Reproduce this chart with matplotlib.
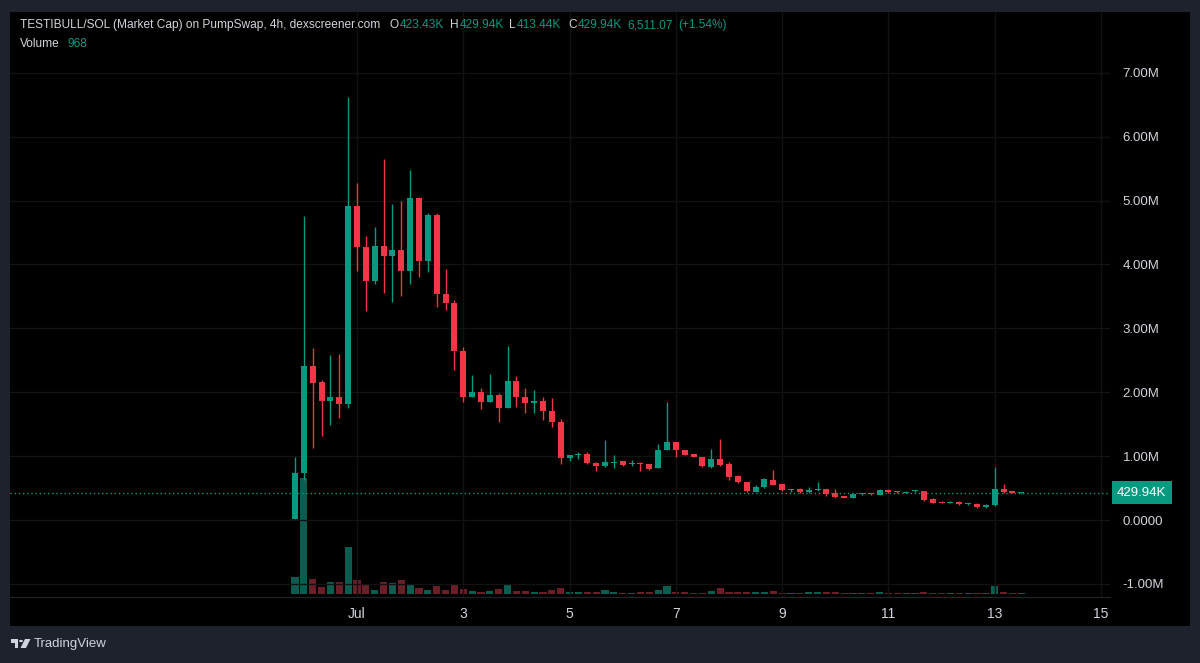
import numpy as np
import pandas as pd
import matplotlib
matplotlib.use('Agg')
import matplotlib.pyplot as plt
import matplotlib.dates as mdates
from matplotlib.patches import Rectangle, Circle, Polygon

plt.rcParams['font.family'] = ['Liberation Sans', 'DejaVu Sans']

# 4h candles, market cap in millions (USD)
start = '2025-06-29 20:00'
opens = [0.02, 0.73, 2.41, 2.16, 1.87, 1.93, 1.82, 4.92, 4.27, 3.74,
         4.29, 4.13, 4.23, 3.89, 5.04, 4.05, 4.78, 3.53, 3.39, 2.65,
         1.93, 2.00, 1.84, 1.96, 1.76, 2.18, 1.92, 1.83, 1.87, 1.70,
         1.53, 0.97, 1.01, 1.03, 0.89, 0.84, 0.89, 0.92, 0.87, 0.89,
         0.87, 0.81, 1.09, 1.22, 1.09, 1.03, 0.98, 0.83, 0.96, 0.87,
         0.69, 0.59, 0.44, 0.51, 0.63, 0.56, 0.47, 0.49, 0.44, 0.47,
         0.48, 0.42, 0.37, 0.35, 0.40, 0.42, 0.39, 0.47, 0.45, 0.43,
         0.45, 0.45, 0.33, 0.28, 0.26, 0.28, 0.25, 0.25, 0.20, 0.23,
         0.49, 0.45, 0.42343]
highs = [0.98, 4.76, 2.69, 2.19, 2.59, 2.60, 6.62, 5.27, 4.45, 4.59,
         5.65, 4.95, 5.00, 5.47, 5.05, 4.80, 4.80, 3.93, 3.45, 2.71,
         2.27, 2.06, 2.28, 1.98, 2.72, 2.26, 2.07, 2.03, 1.92, 1.91,
         1.58, 1.02, 1.06, 1.06, 0.90, 1.25, 1.02, 0.93, 0.94, 0.90,
         0.88, 1.19, 1.85, 1.22, 1.10, 1.03, 0.99, 1.11, 1.27, 0.90,
         0.70, 0.60, 0.55, 0.65, 0.79, 0.57, 0.49, 0.50, 0.52, 0.60,
         0.49, 0.49, 0.38, 0.41, 0.43, 0.43, 0.49, 0.48, 0.46, 0.45,
         0.47, 0.46, 0.34, 0.29, 0.29, 0.29, 0.26, 0.26, 0.25, 0.83,
         0.56, 0.46, 0.42994]
lows = [0.02, 0.63, 1.12, 1.31, 1.49, 1.59, 1.75, 3.89, 3.27, 3.69,
        3.55, 3.41, 3.50, 3.69, 3.80, 3.88, 3.33, 3.29, 2.34, 1.84,
        1.93, 1.74, 1.84, 1.53, 1.76, 1.77, 1.68, 1.68, 1.57, 1.45,
        0.88, 0.93, 0.95, 0.88, 0.77, 0.83, 0.81, 0.85, 0.85, 0.77,
        0.78, 0.81, 1.09, 0.98, 1.02, 0.98, 0.83, 0.82, 0.85, 0.63,
        0.58, 0.44, 0.44, 0.50, 0.55, 0.46, 0.44, 0.43, 0.43, 0.46,
        0.38, 0.35, 0.34, 0.35, 0.39, 0.39, 0.39, 0.43, 0.43, 0.42,
        0.44, 0.30, 0.26, 0.26, 0.26, 0.24, 0.24, 0.19, 0.19, 0.22,
        0.43, 0.42, 0.41344]
closes = [0.73, 2.41, 2.15, 1.87, 1.93, 1.82, 4.92, 4.27, 3.74, 4.29,
          4.13, 4.23, 3.89, 5.04, 4.05, 4.78, 3.53, 3.39, 2.65, 1.93,
          2.00, 1.84, 1.96, 1.76, 2.18, 1.92, 1.83, 1.86, 1.70, 1.53,
          0.97, 1.01, 1.03, 0.89, 0.85, 0.90, 0.91, 0.86, 0.88, 0.87,
          0.80, 1.09, 1.22, 1.09, 1.02, 0.98, 0.84, 0.96, 0.86, 0.68,
          0.59, 0.45, 0.52, 0.64, 0.55, 0.47, 0.48, 0.44, 0.47, 0.48,
          0.41, 0.36, 0.35, 0.40, 0.42, 0.40, 0.47, 0.44, 0.44, 0.44,
          0.46, 0.31, 0.27, 0.27, 0.28, 0.25, 0.255, 0.20, 0.24, 0.49,
          0.44, 0.425, 0.42994]
volume_k = [24.2, 162, 21, 10.2, 16.4, 16.4, 66.2, 20, 14, 5.6,
            16.4, 15, 20, 14, 8.4, 5.6, 11.2, 5.6, 14, 7,
            4.2, 2.8, 4.2, 7, 12.6, 4.2, 4.2, 2.8, 2.8, 5.6,
            8.4, 2.8, 2.8, 2.8, 2.8, 5.6, 2.8, 1.4, 1.4, 2.8,
            2.8, 5.6, 11.2, 2.8, 2.4, 1.0, 1.0, 4.2, 8.4, 2.4,
            2.4, 2.4, 2.4, 2.4, 3.8, 1.0, 1.0, 1.0, 2.4, 2.4,
            2.4, 2.4, 1.0, 1.0, 1.0, 1.0, 2.4, 1.0, 1.0, 1.0,
            1.0, 2.4, 1.0, 1.0, 1.0, 1.0, 1.0, 1.0, 1.0, 10.8,
            2.4, 1.0, 0.968]

price_ticks = [-1, 0, 1, 2, 3, 4, 5, 6, 7]
price_tick_labels = ['-1.00M', '0.0000', '1.00M', '2.00M', '3.00M',
                     '4.00M', '5.00M', '6.00M', '7.00M']
day_ticks = ['2025-07-01', '2025-07-03', '2025-07-05', '2025-07-07',
             '2025-07-09', '2025-07-11', '2025-07-13', '2025-07-15']
day_tick_labels = ['Jul', '3', '5', '7', '9', '11', '13', '15']
last_price = 0.42994

UP = '#089981'
DOWN = '#f23645'
TXT = '#d1d4dc'

W, H = 1200, 663
fig = plt.figure(figsize=(12, 6.63), dpi=100, facecolor='#1e222d')


def fx(px):
    return px / W


def fy(py):
    return 1 - py / H


fig.add_artist(Rectangle((fx(10), fy(626)), 1180 / W, 614 / H,
                         transform=fig.transFigure, facecolor='black',
                         edgecolor='none', zorder=-5))

ax = fig.add_axes([fx(10), fy(597), 1100 / W, 585 / H])
axv = ax.twinx()
ax.set_zorder(axv.get_zorder() + 1)
ax.patch.set_visible(False)
axv.set_facecolor('black')

times = pd.date_range(start, periods=len(opens), freq='4h')
x = mdates.date2num(times)
o = np.array(opens)
h = np.array(highs)
l = np.array(lows)
c = np.array(closes)
up = c >= o
cols = np.where(up, UP, DOWN)

# volume behind the candles
vcols = np.where(up, '#0d6e5e', '#7d2530')
axv.bar(x, volume_k, width=0.8 / 6, color=vcols, alpha=0.85, linewidth=0)
axv.set_ylim(-4.2, 815)
axv.set_yticks([])
for s in axv.spines.values():
    s.set_visible(False)

# candles
ax.vlines(x, l, h, colors=cols, linewidth=1)
body = np.maximum(np.abs(c - o), 0.016)
ax.bar(x, body, bottom=np.minimum(o, c), width=0.68 / 6, color=cols, linewidth=0)

ax.axhline(last_price, color=UP, linestyle=(0, (1, 2)), linewidth=1)

xmin = mdates.date2num(pd.Timestamp('2025-07-01')) - 6.53
xmax = mdates.date2num(pd.Timestamp('2025-07-01')) + 14.17
ax.set_xlim(xmin, xmax)
ax.set_ylim(-1.205, 7.95)

ax.set_xticks(mdates.date2num(pd.to_datetime(day_ticks)))
ax.set_xticklabels(day_tick_labels)
ax.set_yticks(price_ticks)
ax.set_yticklabels(price_tick_labels)
ax.yaxis.tick_right()
ax.tick_params(axis='y', length=0, pad=9, labelsize=9.5, labelcolor=TXT)
ax.tick_params(axis='x', length=0, pad=7, labelsize=10, labelcolor=TXT)
ax.grid(True, color='#121212', linewidth=1)
ax.set_axisbelow(True)
for name, s in ax.spines.items():
    if name == 'bottom':
        s.set_color('#23262e')
    else:
        s.set_visible(False)

# last price label
ax.text(1.0 + 7 / 1100, last_price, '429.94K', transform=ax.get_yaxis_transform(),
        ha='left', va='center', color='white', fontsize=9.5,
        bbox=dict(boxstyle='square,pad=0.4', facecolor=UP, edgecolor='none'))

# header
fig.text(fx(20), fy(25), 'TESTIBULL/SOL (Market Cap) on PumpSwap, 4h, dexscreener.com',
         color=TXT, fontsize=8.6, va='center')
header = [('O', 390, TXT), ('423.43K', 400, UP), ('H', 450, TXT), ('429.94K', 460, UP),
          ('L', 509, TXT), ('413.44K', 517, UP), ('C', 568, TXT), ('429.94K', 578, UP),
          ('6,511.07', 627, UP), ('(+1.54%)', 678, UP)]
for t, px, col in header:
    fig.text(fx(px), fy(25), t, color=col, fontsize=8.6, va='center')
fig.text(fx(20), fy(44), 'Volume', color=TXT, fontsize=8.6, va='center')
fig.text(fx(68), fy(44), '968', color=UP, fontsize=8.6, va='center')

# TradingView logo
logo = '#d1d4dc'
fig.add_artist(Polygon([(fx(10.5), fy(639)), (fx(18), fy(639)), (fx(18), fy(648)),
                        (fx(14.5), fy(648)), (fx(14.5), fy(642.5)), (fx(10.5), fy(642.5))],
                       closed=True, transform=fig.transFigure, facecolor=logo, edgecolor='none'))
fig.add_artist(Circle((fx(21), fy(641)), 2.0 / W, transform=fig.transFigure,
                      facecolor=logo, edgecolor='none'))
fig.add_artist(Polygon([(fx(25), fy(639)), (fx(30.5), fy(639)), (fx(26), fy(648)), (fx(20.5), fy(648))],
                       closed=True, transform=fig.transFigure, facecolor=logo, edgecolor='none'))
fig.text(fx(34), fy(644), 'TradingView', color=logo, fontsize=9.5, va='center')

fig.savefig('out.png', dpi=100, facecolor=fig.get_facecolor())
